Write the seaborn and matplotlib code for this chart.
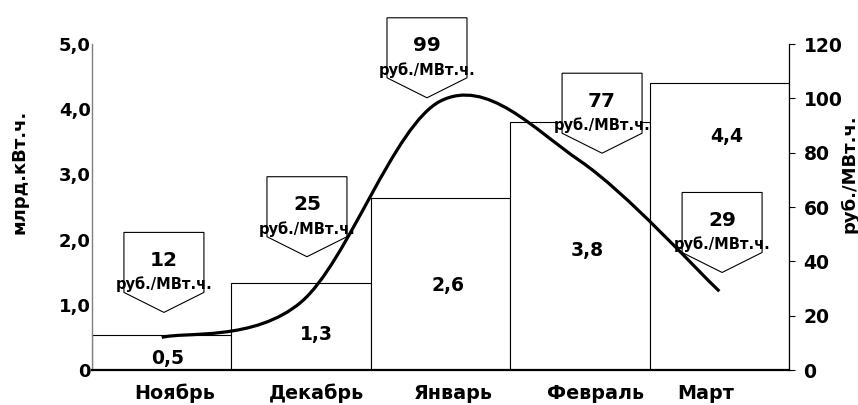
import matplotlib
matplotlib.use("Agg")
import matplotlib.pyplot as plt
import seaborn as sns
import pandas as pd
from matplotlib.path import Path
from matplotlib.patches import PathPatch, Polygon
from matplotlib.transforms import Affine2D, ScaledTranslation

# данные
months = ['Ноябрь', 'Декабрь', 'Январь', 'Февраль', 'Март']
volume = [0.54, 1.34, 2.64, 3.81, 4.40]      # млрд.кВт.ч.
price = [12, 25, 99, 77, 29]                  # руб./МВт.ч.
price_unit = 'руб./МВт.ч.'

# раскладка подписей (не данные)
label_shift = [0.09, 1.11, 2.09, 3.11, 3.9]
value_pos = [(0.045, 0.17), (1.107, 0.55), (2.054, 1.30), (3.051, 1.84), (4.055, 3.58)]
callout_tip = [(0.016, 21.2), (1.042, 41.7), (1.903, 100.2), (3.159, 79.8), (4.02, 35.9)]

sns.set_style("white")
plt.rcParams['font.family'] = ['DejaVu Sans']
plt.rcParams['font.weight'] = 'bold'
plt.rcParams['text.color'] = 'black'
plt.rcParams['xtick.color'] = 'black'
plt.rcParams['ytick.color'] = 'black'
plt.rcParams['axes.labelcolor'] = 'black'

fig = plt.figure(figsize=(8.58, 4.05), dpi=100)
ax = fig.add_axes([92 / 858, 35 / 405, 697 / 858, 326 / 405])

df = pd.DataFrame({'Месяц': months, 'Объём': volume})
sns.barplot(data=df, x='Месяц', y='Объём', color='white', saturation=1,
            edgecolor='black', linewidth=0.8, width=1.0, ax=ax)
ax.set_xlim(-0.5, 4.5)
ax.set_ylim(0, 5)
ax.set_xlabel('')
ax.set_ylabel('')

# ось X: деления на границах категорий, подписи отдельно
ax.set_xticks(label_shift)
ax.set_xticklabels(months, fontsize=13.8, fontweight='bold')
ax.set_xticks([i - 0.5 for i in range(len(months) + 1)], minor=True)
ax.tick_params(axis='x', which='major', length=0, pad=10)
ax.tick_params(axis='x', which='minor', length=4, width=0.8, direction='out', color='black')

ax.set_yticks([0, 1, 2, 3, 4, 5])
ax.set_yticklabels(['0', '1,0', '2,0', '3,0', '4,0', '5,0'], fontsize=13, fontweight='bold')
ax.tick_params(axis='y', length=0, pad=1)

for s in ['top', 'right']:
    ax.spines[s].set_visible(False)
ax.spines['left'].set_color('#808080')
ax.spines['left'].set_linewidth(1.0)
ax.spines['bottom'].set_color('black')
ax.spines['bottom'].set_linewidth(1.6)

for (x, y), v in zip(value_pos, volume):
    ax.text(x, y, f'{v:.1f}'.replace('.', ','), ha='center', va='center',
            fontsize=13.5, fontweight='bold', color='black')

# правая ось — цена
ax2 = ax.twinx()
ax2.set_ylim(0, 120)
ax2.set_yticks(range(0, 121, 20))
ax2.set_yticklabels([str(t) for t in range(0, 121, 20)], fontsize=13.5, fontweight='bold')
ax2.tick_params(axis='y', direction='out', length=4.5, width=0.8, pad=6, color='black')
for s in ['top', 'left', 'bottom']:
    ax2.spines[s].set_visible(False)
ax2.spines['right'].set_color('black')
ax2.spines['right'].set_linewidth(0.9)

# сглаженная линия (кривые Безье как в Excel)
n = len(price)
pts = list(zip(range(n), price))
verts = [pts[0]]
codes = [Path.MOVETO]
for i in range(n - 1):
    p0 = pts[max(i - 1, 0)]
    p1 = pts[i]
    p2 = pts[i + 1]
    p3 = pts[min(i + 2, n - 1)]
    c1 = (p1[0] + (p2[0] - p0[0]) / 6, p1[1] + (p2[1] - p0[1]) / 6)
    c2 = (p2[0] - (p3[0] - p1[0]) / 6, p2[1] - (p3[1] - p1[1]) / 6)
    verts += [c1, c2, p2]
    codes += [Path.CURVE4] * 3
ax2.add_patch(PathPatch(Path(verts, codes), facecolor='none', edgecolor='black',
                        linewidth=2.3, zorder=4, capstyle='butt'))

# выноски с ценой
shape = [(-40, 20), (-40, 80), (40, 80), (40, 20), (0, 0)]
for (tx, ty), p in zip(callout_tip, price):
    tr = Affine2D() + ScaledTranslation(tx, ty, ax2.transData)
    ax2.add_patch(Polygon(shape, closed=True, transform=tr, facecolor='white',
                          edgecolor='black', linewidth=0.8, zorder=3, clip_on=False))
    ax2.text(0, 52, str(p), transform=tr, ha='center', va='center', color='black',
             fontsize=14.5, fontweight='bold', zorder=5, clip_on=False)
    ax2.text(0, 28, price_unit, transform=tr, ha='center', va='center', color='black',
             fontsize=10.5, fontweight='bold', zorder=5, clip_on=False)

fig.text(20 / 858, 1 - 172 / 405, 'млрд.кВт.ч.', rotation=90, ha='center', va='center',
         fontsize=13, fontweight='bold', color='black')
fig.text(849 / 858, 1 - 174 / 405, price_unit, rotation=90, ha='center', va='center',
         fontsize=13, fontweight='bold', color='black')

fig.savefig('out.png', dpi=100)
